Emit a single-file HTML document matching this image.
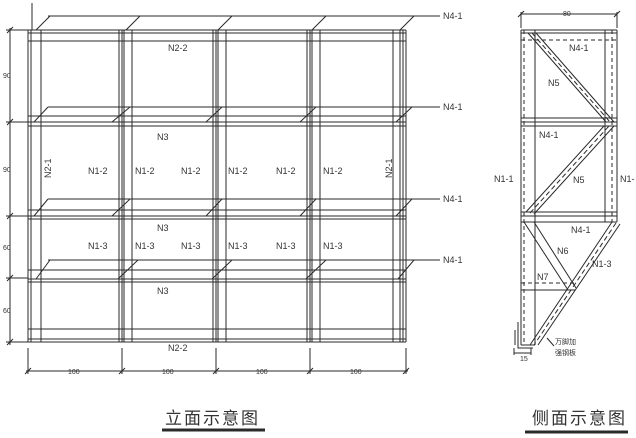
<!DOCTYPE html>
<html><head><meta charset="utf-8"><style>
html,body{margin:0;padding:0;background:#fff;}
svg{display:block;}
text{font-family:"Liberation Sans","Noto Sans CJK SC",sans-serif;fill:#333;}
</style></head><body>
<svg width="636" height="438" viewBox="0 0 636 438" xmlns="http://www.w3.org/2000/svg">
<g stroke="#2a2a2a" stroke-width="1" fill="none">
<!-- front view verticals -->
<path d="M28 30V342M31 30V342M41 30V342
M119 30V342M122 30V342M124 30V342M132 30V342
M213 30V342M216 30V342M218 30V342M226 30V342
M307 30V342M310 30V342M312 30V342M320 30V342
M393 30V342M400 30V342M403 30V342M406 30V342"/>
<!-- horizontals -->
<path d="M28 30H406M28 33H406M28 41H406
M28 116H406M28 122H406M28 126H406
M28 210H406M28 216H406M28 219H406
M28 270H406M28 279H406M28 282H406
M28 329H406M28 339H406M28 342H406" stroke-width="1.1"/>
<!-- shelf parallelograms -->
<path d="M48 16H440M36 30L50 16M126 30L140 16M218 30L232 16M312 30L326 16M400 30L414 16"/>
<path d="M48 107H440M34 122L48 107M112 122L130 107M206 122L222 107M300 122L316 107M396 122L412 107"/>
<path d="M48 199H440M34 216L48 199M112 216L130 199M206 216L222 199M300 216L316 199M396 216L412 199"/>
<path d="M48 260H440M36 279L50 260M118 279L138 260M212 279L232 260M306 279L326 260M398 279L414 260"/>
<path d="M32 3V30"/>
<!-- left dims -->
<path d="M10 28V345M6 30H28M6 122H28M6 216H28M6 278H28M6 342H28M7 33L13 27M7 125L13 119M7 219L13 213M7 281L13 275M7 345L13 339"/>
<!-- bottom dims -->
<path d="M28 348V374M122 348V374M216 348V374M310 348V374M406 348V374M26 371H408M25 374L31 368M119 374L125 368M213 374L219 368M307 374L313 368M403 374L409 368"/>
<path d="M162 430H265" stroke-width="3"/>
<!-- side view -->
<path d="M521 30V345M535 30V345M605 30V222M617 30V222"/>
<path d="M524 30V345M612 30V222" stroke-dasharray="4,3"/>
<path d="M521 30H617M521 33H617M521 118H617M521 122H617M521 126H617M521 212H617M521 216H617M521 222H617M521 290H575M521 345H535"/>
<path d="M521 40H617M521 283H575" stroke-dasharray="4,3"/>
<!-- N5 upper -->
<path d="M528 33L606 122M536 33L614 122"/><path d="M532 33L610 122" stroke-dasharray="5,3"/>
<!-- N5 lower -->
<path d="M526 212L604 126M534 214L614 126"/><path d="M530 213L609 126" stroke-dasharray="5,3"/>
<!-- N6 -->
<path d="M524 222L568 290M534 222L576 288"/>
<!-- N1-3 -->
<path d="M612 222L530 345M620 224L538 345"/><path d="M616 223L534 345" stroke-dasharray="5,3"/>
<!-- top dim -->
<path d="M521 12V28M617 12V28M521 14H617M518 17L524 11M614 17L620 11"/>
<!-- bottom detail -->
<path d="M518 322V348H533M515 330V345M514 348V355M531 348V355M514 353H531"/>
<path d="M547 338L554 346"/>
<path d="M525 432H628" stroke-width="3"/>
</g>
<g font-size="9">
<text x="443" y="19">N4-1</text><text x="443" y="110">N4-1</text><text x="443" y="202">N4-1</text><text x="443" y="263">N4-1</text>
<text x="168" y="51">N2-2</text><text x="168" y="351">N2-2</text>
<text x="157" y="140">N3</text><text x="157" y="231">N3</text><text x="157" y="294">N3</text>
<text x="88" y="174">N1-2</text><text x="135" y="174">N1-2</text><text x="181" y="174">N1-2</text><text x="228" y="174">N1-2</text><text x="276" y="174">N1-2</text><text x="323" y="174">N1-2</text>
<text x="88" y="249">N1-3</text><text x="135" y="249">N1-3</text><text x="181" y="249">N1-3</text><text x="228" y="249">N1-3</text><text x="276" y="249">N1-3</text><text x="323" y="249">N1-3</text>
<text transform="translate(51,178) rotate(-90)">N2-1</text>
<text transform="translate(392,178) rotate(-90)">N2-1</text>
<text x="569" y="51">N4-1</text><text x="548" y="86">N5</text>
<text x="539" y="138">N4-1</text><text x="573" y="183">N5</text>
<text x="571" y="233">N4-1</text><text x="557" y="254">N6</text><text x="592" y="267">N1-3</text>
<text x="537" y="280">N7</text>
<text x="494" y="182">N1-1</text><text x="620" y="182">N1-</text>
</g>
<g font-size="7">
<text x="3" y="78">90</text><text x="3" y="172">90</text><text x="3" y="250">60</text><text x="3" y="313">60</text>
<text x="68" y="374">100</text><text x="162" y="374">100</text><text x="256" y="374">100</text><text x="350" y="374">100</text>
<text x="563" y="16">80</text><text x="520" y="361">15</text>
<text x="555" y="344">万脚加</text><text x="555" y="355">强钢板</text>
</g>
<text x="165" y="424" font-size="17" letter-spacing="2">立面示意图</text>
<text x="532" y="424" font-size="17" letter-spacing="2">侧面示意图</text>
</svg>
</body></html>
